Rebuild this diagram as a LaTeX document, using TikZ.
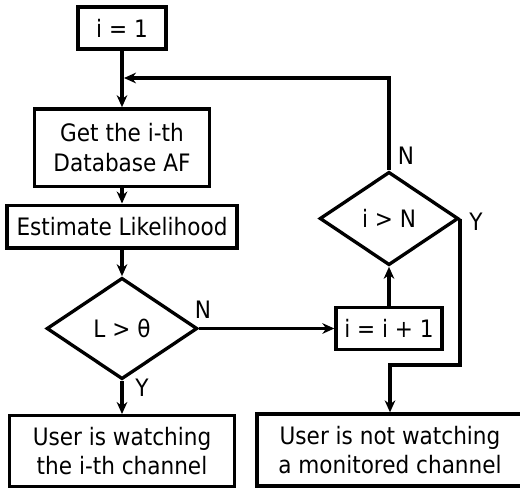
\documentclass[tikz,border=0pt]{standalone}
\usepackage{fontspec}
\setmainfont{DejaVu Sans Condensed}
\usetikzlibrary{shapes.geometric,arrows.meta}
\begin{document}
\begin{tikzpicture}[x=0.75pt,y=-0.75pt, line width=2.5pt,
  box/.style={draw, rectangle, inner sep=0pt, align=center, font=\fontsize{18}{22}\selectfont},
  dia/.style={draw, diamond, inner sep=0pt, font=\fontsize{18}{22}\selectfont},
  arr/.style={-{Stealth[length=9pt,width=8pt]}},
  lbl/.style={font=\fontsize{18}{20}\selectfont, inner sep=0pt}]
\useasboundingbox (0,0) rectangle (520,490);
\node[box, minimum width=66pt, minimum height=31.5pt] (i1) at (122,28) {i = 1};
\node[box, minimum width=131pt, minimum height=58pt] (get) at (122,147.5) {Get the i-th\\Database AF};
\node[box, minimum width=172.5pt, minimum height=32pt] (est) at (122,226.5) {Estimate Likelihood};
\node[dia, minimum width=113pt, minimum height=76pt] (d1) at (122,328.5) {L > θ};
\node[box, minimum width=168.75pt, minimum height=53pt] (u1) at (122,451) {User is watching\\the i-th channel};
\node[dia, minimum width=104pt, minimum height=70pt] (d2) at (389,218.5) {i > N};
\node[box, minimum width=79.5pt, minimum height=31.5pt] (inc) at (389,328.5) {i = i + 1};
\node[box, minimum width=199.5pt, minimum height=54pt] (u2) at (390,450) {User is not watching\\a monitored channel};
\coordinate (j) at (124,78);
\coordinate (yk) at (0,365);
\draw[arr] (i1.south) -- (get.north);
\draw[arr] (get.south) -- (est.north);
\draw[arr] (est.south) -- (d1.north);
\draw[arr] (d1.south) -- (u1.north);
\draw[arr] (d1.east) -- (inc.west);
\draw[arr] (inc.north) -- (d2.south);
\draw[arr] (d2.north) |- (j);
\draw[arr] (d2.east) -- (d2.east |- yk) -| (u2.north);
\node[lbl] (n1) at (203,310) {N};
\node[lbl] (y1) at (142,388) {Y};
\node[lbl] (n2) at (406,156) {N};
\node[lbl] (y2) at (476,222) {Y};
\end{tikzpicture}
\end{document}
